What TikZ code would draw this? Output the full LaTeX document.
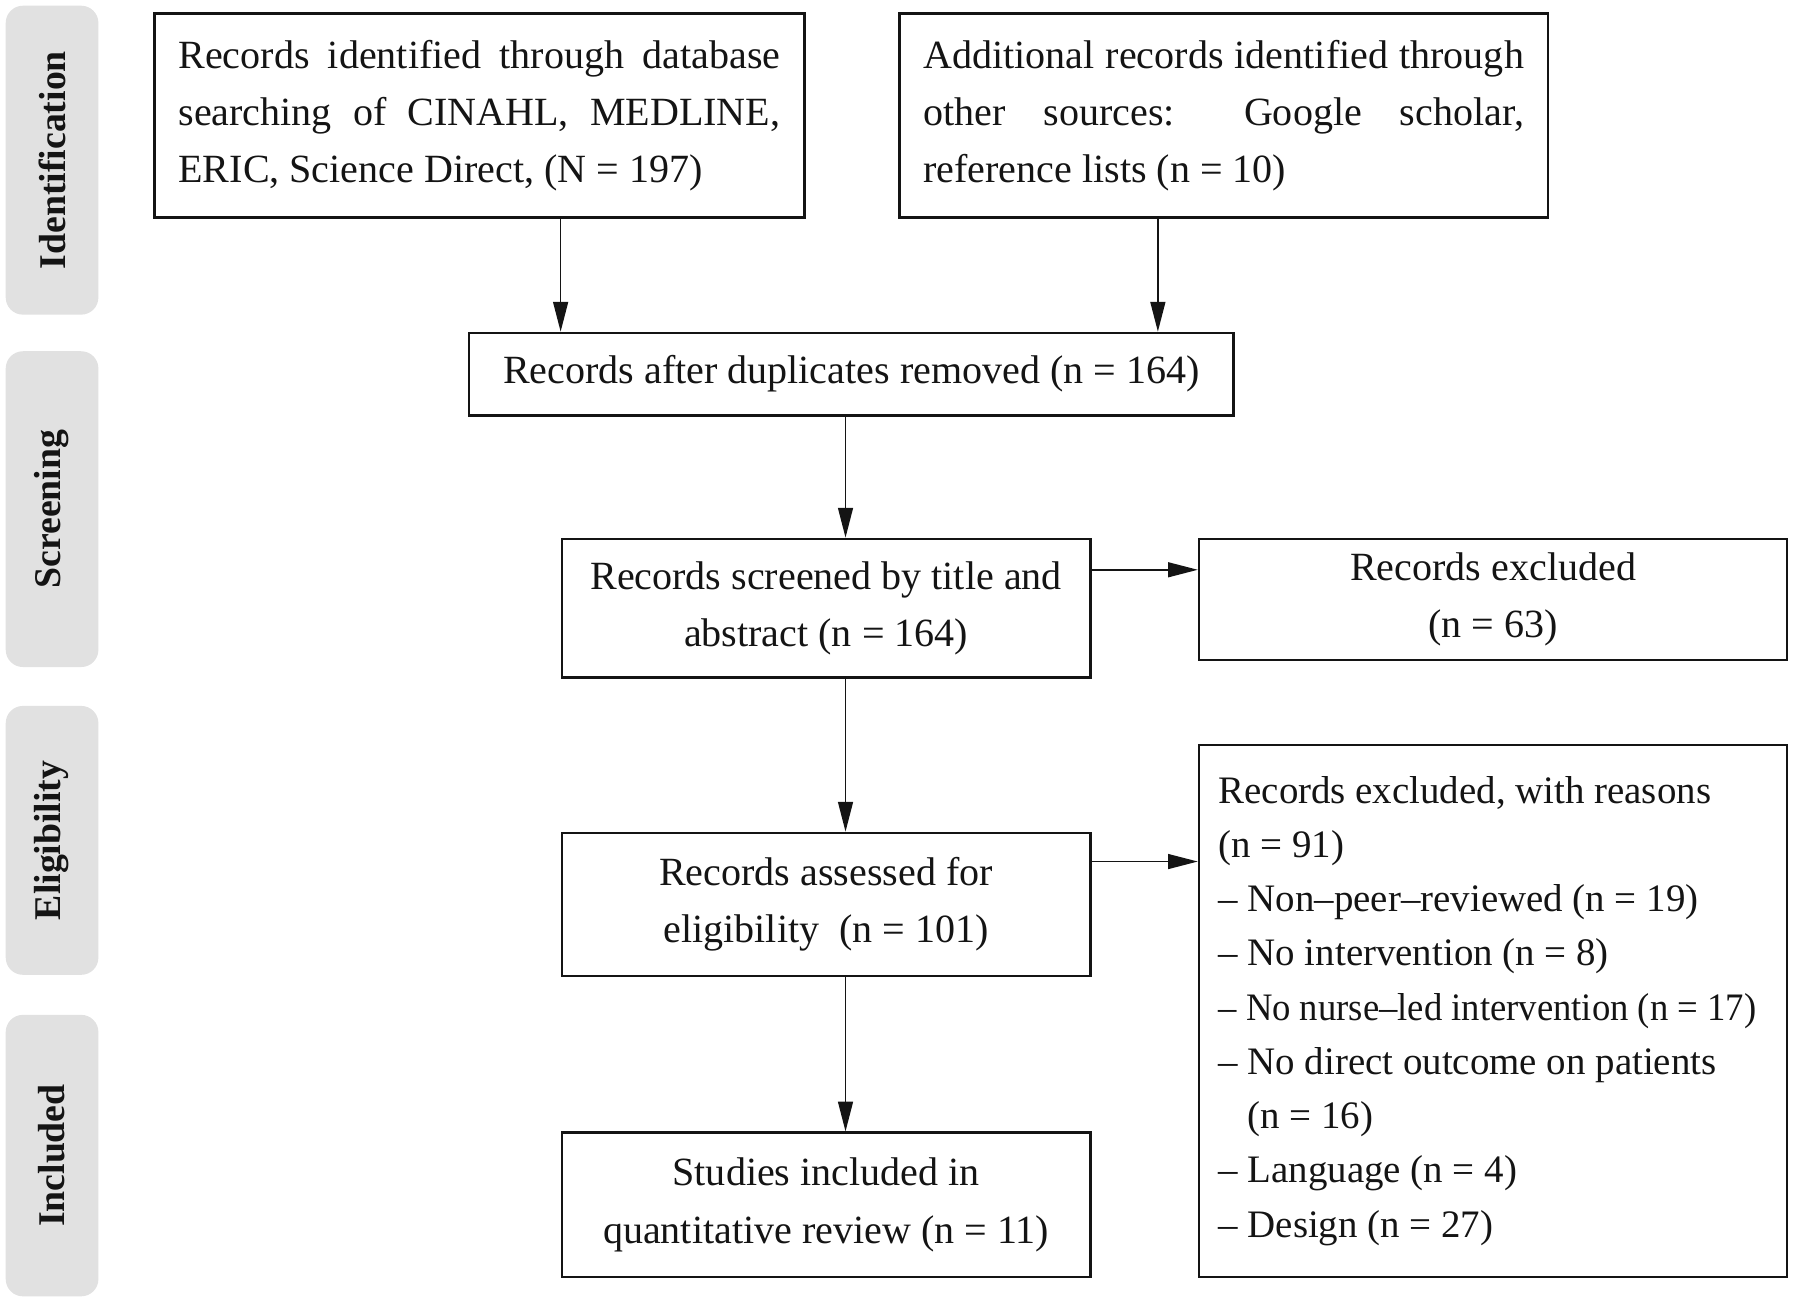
\documentclass[tikz,border=0pt]{standalone}
\usepackage{fontspec}
\usepackage{graphicx}
\setmainfont{Liberation Serif}
\usetikzlibrary{arrows.meta}
\definecolor{band}{HTML}{E1E1E1}
\definecolor{ink}{HTML}{141414}
\tikzset{
  box/.style={draw=ink, line width=1.1pt, inner sep=0pt, font=\fontsize{17.5}{25}\selectfont, text=ink},
  phase/.style={fill=band, rounded corners=7.5pt, inner sep=0pt, rotate=90, minimum height=40.5pt, font=\bfseries\fontsize{16.5}{18}\selectfont, text=ink},
  arr/.style={draw=ink, line width=0.75pt, -{Triangle[length=13pt,width=6.5pt]}}
}
\begin{document}
\begin{tikzpicture}[x=0.5pt,y=-0.5pt]
\useasboundingbox (0,0) rectangle (1568,1139);
% phase bands
\node[phase, minimum width=135pt] (p1) at (45.5,140) {Identification};
\node[phase, minimum width=138pt] (p2) at (45.5,445) {Screening};
\node[phase, minimum width=117.5pt] (p3) at (45.5,734.5) {Eligibility};
\node[phase, minimum width=123pt] (p4) at (45.5,1010) {Included};
% boxes
\node[box, minimum width=284pt, minimum height=89pt] (A) at (419,101)
  {\parbox{263pt}{\makebox[263pt][s]{Records identified through database}\\
   \makebox[263pt][s]{searching of CINAHL, MEDLINE,}\\
   ERIC, Science Direct, (N = 197)}};
\node[box, minimum width=283.5pt, minimum height=89pt] (B) at (1069.5,101)
  {\parbox{262.5pt}{\makebox[262.5pt][s]{Additional records identified through}\\
   \makebox[262.5pt][s]{other sources: Google scholar,}\\
   reference lists (n = 10)}};
\node[box, minimum width=334pt, minimum height=36pt] (C) at (744,327) {Records after duplicates removed (n = 164)};
\node[box, minimum width=231pt, minimum height=60.5pt, align=center] (D) at (722,531.5) {Records screened by title and\\abstract (n = 164)};
\node[box, minimum width=257pt, minimum height=53pt, align=center] (E) at (1305,524) {Records excluded\\(n = 63)};
\node[box, minimum width=231pt, minimum height=62.5pt, align=center] (F) at (722,790.5) {Records assessed for\\eligibility~ (n = 101)};
\node[box, minimum width=231pt, minimum height=63pt, align=center] (H) at (722,1053) {Studies included in\\quantitative review (n = 11)};
\node[box, minimum width=257pt, minimum height=232.5pt] (G) at (1305,883.5)
  {\begin{minipage}{240pt}\fontsize{17}{23.7}\selectfont
  Records excluded, with reasons\\
  (n = 91)\\
  – Non–peer–reviewed (n = 19)\\
  – No intervention (n = 8)\\
  \resizebox{235pt}{\height}{– No nurse–led intervention (n = 17)}\\
  – No direct outcome on patients\\
  \phantom{– }(n = 16)\\
  – Language (n = 4)\\
  – Design (n = 27)
  \end{minipage}};
% connector x positions
\coordinate (xa) at (490,0);
\coordinate (xb) at (1012,0);
\coordinate (xm) at (739,0);
\draw[arr] (A.south -| xa) -- (C.north -| xa);
\draw[arr] (B.south -| xb) -- (C.north -| xb);
\draw[arr] (C.south -| xm) -- (D.north -| xm);
\draw[arr] (D.south -| xm) -- (F.north -| xm);
\draw[arr] (F.south -| xm) -- (H.north -| xm);
\coordinate (ye) at (0,498);
\coordinate (yg) at (0,753);
\draw[arr] (D.east |- ye) -- (E.west |- ye);
\draw[arr] (F.east |- yg) -- (G.west |- yg);
\end{tikzpicture}
\end{document}
